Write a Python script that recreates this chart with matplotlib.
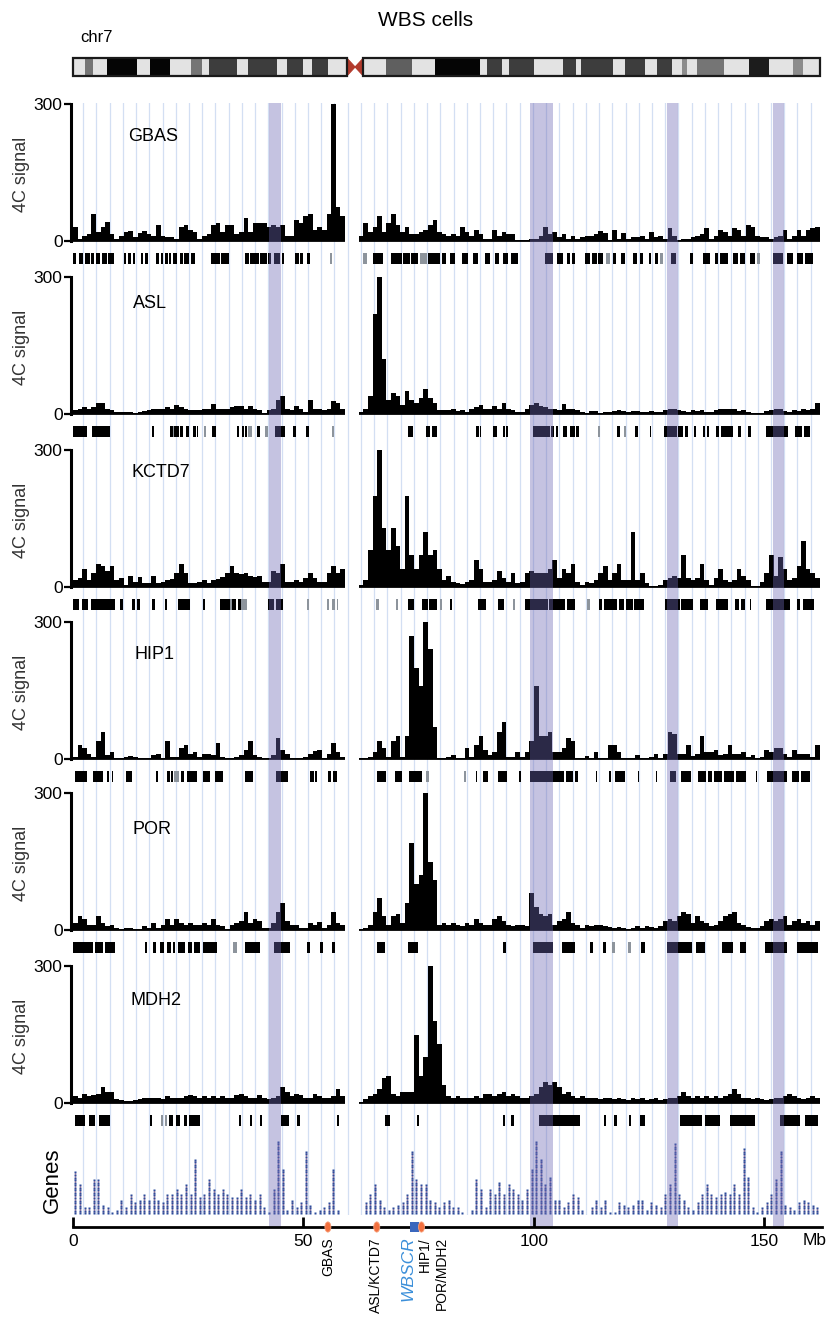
import numpy as np
import matplotlib
matplotlib.use("Agg")
import matplotlib.pyplot as plt
from matplotlib.patches import Polygon, Rectangle, Ellipse

plt.rcParams['font.family'] = ['Liberation Sans', 'DejaVu Sans']

# ---- chromosome 7 ideogram: (start Mb, end Mb, stain %) ----
IDEO_BANDS = [
    (0, 2.6, 0), (2.6, 4.4, 50), (4.4, 7.3, 0), (7.3, 13.8, 100), (13.8, 16.7, 0),
    (16.7, 21.0, 100), (21.0, 25.7, 0), (25.7, 27.9, 50), (27.9, 29.4, 0),
    (29.4, 35.5, 75), (35.5, 38.0, 0), (38.0, 44.2, 75), (44.2, 46.4, 0),
    (46.4, 50.0, 75), (50.0, 51.8, 0), (51.8, 55.4, 75), (55.4, 59.4, 0),
    (63.0, 68.0, 0), (68.0, 73.5, 60), (73.5, 78.5, 0), (78.5, 88.2, 100),
    (88.2, 89.8, 0), (89.8, 93.1, 75), (93.1, 94.7, 0), (94.7, 100.0, 75),
    (100.0, 106.4, 0), (106.4, 109.1, 75), (109.1, 110.2, 0), (110.2, 117.1, 75),
    (117.1, 119.8, 0), (119.8, 124.1, 75), (124.1, 126.8, 0), (126.8, 130.0, 75),
    (130.0, 132.1, 0), (132.1, 133.2, 40), (133.2, 135.4, 0), (135.4, 141.3, 50),
    (141.3, 146.6, 0), (146.6, 150.9, 90), (150.9, 156.2, 0), (156.2, 158.4, 40),
    (158.4, 162.1, 0),
]
CENTROMERE = (59.4, 63.0)

# ---- 4C signal, 1 Mb bins: p arm bins 0-58, q arm bins 62-161 ----
P_BINS = np.arange(0, 59)
Q_BINS = np.arange(62, 162)

gbas_p = [30, 5, 10, 15, 60, 20, 30, 42, 15, 5,
          10, 20, 22, 8, 18, 22, 15, 10, 35, 10,
          8, 8, 5, 30, 35, 25, 20, 5, 10, 15,
          35, 40, 20, 35, 35, 15, 20, 50, 20, 40,
          40, 40, 30, 35, 30, 35, 10, 10, 45, 40,
          55, 60, 25, 30, 25, 60, 300, 75, 55]
gbas_q = [10, 40, 20, 30, 55, 20, 40, 60, 35, 20,
          30, 15, 15, 20, 25, 35, 45, 20, 15, 10,
          15, 10, 30, 20, 10, 25, 15, 5, 5, 25,
          10, 20, 15, 15, 3, 2, 2, 5, 5, 10,
          30, 15, 20, 8, 15, 5, 12, 5, 8, 10,
          12, 15, 22, 18, 3, 25, 5, 18, 5, 8,
          8, 10, 5, 20, 8, 10, 5, 28, 10, 3,
          5, 5, 8, 10, 15, 28, 5, 10, 25, 20,
          10, 28, 25, 10, 35, 30, 10, 8, 8, 5,
          8, 10, 25, 5, 12, 25, 12, 25, 28, 30]

asl_p = [8, 12, 15, 10, 15, 25, 25, 10, 8, 5,
         5, 5, 4, 3, 4, 6, 8, 10, 10, 12,
         15, 12, 20, 15, 10, 8, 8, 8, 10, 12,
         22, 12, 12, 10, 15, 18, 18, 12, 18, 10,
         8, 3, 8, 12, 30, 40, 12, 8, 18, 10,
         5, 30, 12, 10, 8, 10, 28, 25, 10]
asl_q = [5, 10, 40, 220, 300, 120, 30, 45, 40, 20,
         50, 30, 25, 35, 55, 35, 25, 8, 8, 8,
         10, 6, 8, 5, 10, 15, 20, 10, 12, 18,
         10, 25, 10, 8, 5, 5, 10, 20, 25, 18,
         15, 12, 10, 8, 22, 12, 10, 8, 4, 3,
         6, 6, 3, 4, 4, 6, 8, 6, 4, 6,
         6, 5, 4, 6, 4, 5, 8, 10, 12, 8,
         6, 5, 8, 6, 8, 5, 5, 8, 10, 12,
         10, 12, 6, 8, 5, 2, 2, 3, 6, 8,
         10, 10, 6, 4, 8, 6, 10, 8, 12, 25]

kctd7_p = [15, 20, 40, 15, 30, 50, 45, 35, 45, 15,
           20, 5, 25, 10, 22, 8, 8, 25, 8, 12,
           15, 18, 30, 50, 30, 8, 8, 10, 15, 8,
           15, 18, 22, 30, 45, 30, 28, 30, 25, 22,
           25, 10, 10, 35, 30, 50, 12, 10, 15, 12,
           20, 30, 20, 10, 12, 30, 45, 30, 40]
kctd7_q = [5, 15, 80, 200, 300, 130, 80, 130, 90, 40,
           200, 70, 40, 70, 120, 70, 80, 40, 15, 25,
           10, 8, 6, 10, 15, 60, 40, 10, 10, 15,
           35, 20, 10, 30, 8, 10, 30, 35, 30, 30,
           30, 40, 60, 20, 40, 30, 50, 10, 5, 10,
           8, 15, 30, 45, 15, 30, 50, 15, 15, 120,
           15, 30, 8, 3, 3, 5, 15, 20, 25, 20,
           70, 20, 15, 20, 50, 15, 5, 20, 40, 15,
           10, 15, 40, 25, 15, 3, 3, 10, 30, 70,
           25, 65, 40, 15, 20, 45, 100, 40, 30, 20]

hip1_p = [5, 30, 25, 10, 5, 40, 60, 8, 15, 3,
          3, 5, 6, 4, 3, 3, 3, 8, 12, 3,
          40, 5, 5, 25, 30, 12, 15, 5, 12, 10,
          8, 35, 5, 3, 3, 5, 8, 20, 40, 8,
          5, 2, 3, 8, 45, 20, 10, 3, 2, 3,
          5, 10, 18, 20, 3, 12, 35, 15, 5]
hip1_q = [2, 2, 5, 15, 40, 25, 5, 40, 50, 5,
          50, 270, 200, 160, 300, 240, 70, 3, 3, 5,
          8, 2, 3, 25, 5, 30, 50, 20, 8, 15,
          60, 80, 5, 5, 15, 5, 15, 40, 160, 50,
          50, 60, 15, 15, 25, 45, 40, 3, 3, 6,
          3, 15, 2, 3, 30, 30, 15, 3, 2, 3,
          8, 2, 3, 5, 10, 2, 10, 60, 55, 12,
          10, 30, 6, 10, 50, 15, 15, 20, 8, 10,
          30, 12, 10, 15, 5, 8, 3, 5, 20, 15,
          25, 25, 12, 5, 20, 10, 12, 10, 5, 30]

por_p = [15, 30, 25, 10, 10, 30, 15, 8, 12, 5,
         3, 5, 4, 3, 3, 8, 5, 15, 5, 10,
         25, 12, 25, 15, 10, 15, 12, 12, 15, 10,
         25, 12, 8, 3, 10, 15, 20, 40, 15, 25,
         20, 5, 5, 15, 40, 60, 20, 12, 10, 5,
         5, 15, 10, 18, 5, 12, 40, 15, 10]
por_q = [3, 5, 10, 40, 70, 30, 10, 30, 35, 15,
         60, 190, 100, 120, 300, 150, 110, 10, 15, 12,
         15, 10, 8, 15, 10, 25, 15, 10, 10, 25,
         30, 20, 12, 8, 12, 10, 8, 80, 50, 35,
         30, 35, 10, 20, 25, 40, 15, 10, 5, 12,
         8, 10, 12, 8, 6, 5, 6, 4, 3, 5,
         8, 5, 8, 6, 5, 8, 20, 25, 20, 30,
         40, 35, 15, 30, 20, 15, 8, 10, 20, 30,
         35, 40, 15, 10, 6, 5, 4, 8, 20, 25,
         20, 25, 30, 10, 20, 25, 15, 20, 10, 20]

mdh2_p = [15, 12, 20, 15, 18, 20, 35, 25, 25, 8,
          6, 5, 4, 6, 8, 10, 10, 12, 10, 8,
          15, 12, 10, 12, 15, 18, 15, 12, 15, 12,
          15, 12, 15, 12, 10, 18, 20, 15, 12, 10,
          18, 12, 8, 10, 15, 35, 25, 15, 20, 18,
          10, 12, 20, 15, 12, 10, 15, 30, 15]
mdh2_q = [3, 8, 15, 20, 30, 55, 60, 20, 15, 25,
          25, 25, 150, 60, 100, 300, 180, 130, 40, 15,
          12, 15, 12, 10, 12, 15, 10, 20, 20, 15,
          20, 25, 15, 20, 15, 10, 12, 15, 20, 35,
          45, 40, 45, 35, 20, 25, 15, 12, 15, 10,
          12, 10, 8, 10, 12, 8, 10, 8, 6, 10,
          8, 10, 6, 8, 12, 6, 8, 10, 12, 15,
          25, 15, 12, 15, 12, 15, 10, 15, 12, 15,
          20, 30, 20, 12, 10, 8, 10, 8, 6, 8,
          10, 12, 15, 20, 15, 10, 8, 12, 15, 12]

# ---- significant-contact windows (Mb intervals) under each track ----
gbas_dom = [(0, 0.7), (1.4, 2.1), (2.7, 3.7), (3.8, 4.6), (5.0, 5.9), (6.3, 7.3), (7.6, 9.0),
            (11.1, 11.5), (11.9, 12.5), (13.1, 13.5), (14.0, 14.2), (14.7, 15.1), (15.7, 16.3),
            (18.1, 18.6), (19.2, 19.6), (20.0, 20.6), (20.8, 21.2), (21.8, 22.5), (23.2, 23.8),
            (24.1, 25.2), (25.7, 26.5), (30.0, 31.9), (32.2, 33.8), (37.4, 38.1), (38.4, 40.3),
            (40.6, 42.0), (42.3, 42.9), (43.5, 44.9), (45.3, 45.8), (48.1, 49.0), (49.2, 49.8),
            (50.7, 51.4), (65.1, 67.2), (69.1, 71.3), (71.5, 73.1), (73.4, 74.9), (77.1, 79.6),
            (80.0, 81.0), (81.8, 82.8), (84.3, 85.7), (86.8, 87.9), (89.4, 90.4), (91.5, 92.5),
            (93.3, 94.4), (95.1, 96.6), (102.4, 104.2), (104.9, 106.3), (107.1, 107.8),
            (108.2, 108.9), (111.0, 112.1), (112.5, 113.6), (113.9, 115.0), (117.2, 117.9),
            (119.0, 119.7), (121.5, 122.3), (123.0, 123.7), (125.0, 125.5), (126.2, 127.0),
            (129.8, 130.9), (133.8, 134.5), (136.7, 138.2), (139.2, 140.0), (140.3, 142.1),
            (143.2, 144.3), (144.7, 145.8), (146.8, 147.9), (151.9, 154.1), (154.8, 156.2),
            (157.0, 158.4), (158.8, 160.6)]
gbas_weak = [(55.7, 56.3), (63.0, 63.7), (75.3, 76.7), (115.7, 116.5), (127.3, 128.0),
             (148.5, 149.0)]

asl_dom = [(0, 3.0), (4.2, 8.0), (17.1, 17.6), (21.0, 21.6), (22.0, 22.9), (23.2, 23.9),
           (24.5, 25.2), (26.0, 26.6), (26.9, 27.2), (30.1, 31.0), (35.5, 36.0), (36.6, 37.0),
           (37.3, 37.7), (40.0, 40.6), (43.8, 46.0), (47.8, 48.4), (50.5, 51.3),
           (72.7, 73.7), (76.6, 77.5), (77.9, 78.9), (87.5, 88.0), (88.2, 88.6), (91.2, 91.9),
           (93.2, 93.7), (93.9, 94.4), (99.7, 103.5), (103.8, 104.4), (104.7, 105.3),
           (106.2, 107.1), (107.8, 108.9), (109.1, 109.8), (118.1, 118.6), (121.9, 122.6),
           (125.1, 125.5), (128.2, 131.0), (131.3, 132.4), (132.8, 133.5), (134.7, 135.1),
           (136.6, 137.2), (137.5, 138.0), (139.6, 140.1), (140.5, 143.2), (144.3, 145.0),
           (146.5, 147.0), (150.3, 155.2), (156.6, 158.2), (158.5, 160.0)]
asl_weak = [(21.6, 22.0), (28.5, 28.9), (38.0, 38.8), (41.6, 42.2), (56.1, 56.6),
            (113.9, 114.3), (119.6, 120.0)]

kctd7_dom = [(0, 1.2), (1.9, 3.3), (4.0, 9.1), (10.2, 10.9), (12.9, 13.4), (13.8, 14.5),
             (17.1, 17.8), (20.0, 20.3), (22.8, 25.4), (28.3, 28.7), (31.9, 34.0), (34.4, 35.3),
             (35.8, 36.4), (42.4, 43.5), (44.0, 45.6), (72.7, 73.9), (75.8, 77.0), (77.3, 78.9),
             (81.8, 82.3), (87.9, 89.7), (92.2, 93.5), (98.0, 103.0), (103.3, 106.8),
             (107.2, 108.9), (114.2, 114.8), (115.2, 118.0), (118.4, 119.6), (120.0, 121.4),
             (121.8, 123.8), (128.4, 131.6), (132.0, 134.5), (136.1, 137.8), (139.5, 142.1),
             (143.6, 144.4), (144.9, 145.8), (146.8, 147.2), (150.3, 155.5), (157.0, 157.8),
             (158.3, 160.7)]
kctd7_weak = [(34.0, 34.4), (36.4, 37.7), (50.7, 51.3), (55.0, 55.5), (56.3, 56.8),
              (57.2, 57.6), (65.8, 66.3), (70.0, 70.5), (79.6, 80.0), (95.5, 96.0),
              (111.6, 112.2)]

hip1_dom = [(0.4, 3.1), (4.4, 6.6), (7.4, 7.9), (8.4, 8.7), (11.5, 12.7), (18.1, 18.5),
            (20.5, 21.0), (21.3, 21.8), (23.4, 24.1), (24.7, 26.8), (28.1, 29.7), (30.8, 32.5),
            (37.3, 39.0), (44.0, 46.6), (51.4, 52.2), (52.5, 52.9), (55.4, 56.0), (56.4, 57.2),
            (65.9, 68.0), (69.8, 71.3), (72.9, 75.8), (87.4, 87.7), (89.0, 90.1), (92.2, 94.1),
            (96.8, 97.1), (99.1, 106.5), (106.9, 108.5), (109.0, 109.6), (113.4, 113.7),
            (116.3, 116.8), (117.6, 119.7), (122.5, 122.8), (126.4, 126.7), (129.5, 130.9),
            (132.0, 134.0), (135.6, 137.3), (137.8, 138.6), (139.0, 140.7), (141.2, 143.4),
            (143.8, 146.1), (148.1, 148.4), (150.5, 154.8), (155.9, 157.6), (158.0, 159.9)]
hip1_weak = [(21.9, 23.0), (76.6, 77.3), (84.8, 85.2)]

por_dom = [(0.1, 4.4), (4.8, 6.6), (6.9, 9.1), (15.6, 16.1), (17.4, 18.1), (18.9, 19.8),
           (20.5, 21.2), (21.6, 22.1), (22.8, 24.3), (25.0, 25.8), (26.3, 27.5), (28.3, 31.2),
           (37.3, 40.6), (43.5, 47.1), (50.7, 51.4), (53.6, 54.3), (56.1, 56.8),
           (65.9, 67.7), (72.7, 74.9), (93.3, 94.0), (99.8, 104.2), (106.0, 108.9),
           (112.1, 112.8), (115.0, 115.7), (123.3, 124.0), (128.8, 134.2), (135.1, 137.1),
           (140.7, 143.2), (144.7, 146.1), (150.1, 154.8), (157.0, 161.7)]
por_weak = [(34.8, 35.6), (117.0, 117.6), (120.4, 121.0)]

mdh2_dom = [(0.4, 2.6), (3.5, 4.8), (5.6, 8.0), (16.7, 17.2), (20.8, 21.6), (22.3, 23.2),
            (24.1, 24.8), (25.2, 27.5), (36.0, 36.4), (38.4, 38.9), (40.6, 41.1), (45.1, 46.9),
            (48.7, 49.2), (57.2, 57.7), (67.7, 68.8), (74.7, 75.1), (93.2, 93.7), (95.1, 95.7),
            (101.1, 110.0), (115.2, 115.6), (117.4, 118.1), (120.6, 121.0), (123.0, 124.1),
            (131.7, 136.5), (137.1, 140.3), (142.5, 147.9), (153.4, 157.7), (158.8, 161.7)]
mdh2_weak = [(19.0, 19.5), (20.0, 20.4)]

TRACK_NAMES = ["GBAS", "ASL", "KCTD7", "HIP1", "POR", "MDH2"]
P_SIGNALS = [gbas_p, asl_p, kctd7_p, hip1_p, por_p, mdh2_p]
Q_SIGNALS = [gbas_q, asl_q, kctd7_q, hip1_q, por_q, mdh2_q]
DOMAINS = [gbas_dom, asl_dom, kctd7_dom, hip1_dom, por_dom, mdh2_dom]
WEAK_DOMAINS = [gbas_weak, asl_weak, kctd7_weak, hip1_weak, por_weak, mdh2_weak]

# ---- gene counts per 1 Mb bin (0-161) ----
gene_counts = [17, 12, 3, 3, 14, 14, 4, 3, 1, 2,
               6, 3, 8, 5, 6, 8, 6, 10, 6, 5,
               8, 8, 10, 8, 12, 8, 22, 7, 8, 14,
               10, 8, 10, 8, 7, 7, 10, 7, 8, 6,
               8, 3, 1, 10, 29, 18, 2, 6, 3, 5,
               25, 4, 1, 2, 3, 5, 18, 2, 0, 0,
               0, 0, 0, 5, 8, 12, 6, 3, 2, 3,
               4, 5, 8, 25, 14, 12, 12, 6, 5, 3,
               5, 6, 3, 3, 1, 0, 2, 14, 10, 3,
               10, 8, 13, 8, 12, 10, 8, 6, 10, 18,
               29, 22, 12, 15, 6, 6, 3, 5, 8, 7,
               2, 0, 3, 6, 3, 6, 1, 1, 5, 4,
               3, 4, 6, 6, 2, 5, 4, 3, 8, 12,
               28, 8, 6, 3, 2, 5, 8, 12, 8, 7,
               8, 9, 8, 12, 8, 26, 15, 3, 1, 3,
               5, 8, 14, 25, 4, 3, 2, 5, 6, 5,
               4, 3]

# regions shaded across all tracks (Mb)
SHADED = [(42.5, 45.2), (99.1, 104.1), (128.9, 131.3), (151.8, 154.3)]

# loci marked on the chromosome axis
VIEWPOINTS = [("GBAS", 55.3), ("ASL/KCTD7", 65.9), ("HIP1/", 75.6)]
WBSCR = (73.1, 75.0)

# ---- layout (pixels) ----
FIG_W, FIG_H = 834, 1318
X_LEFT, X_RIGHT = 73, 822
X_MAX = 162.5
PANEL_TOPS = [104, 277, 450, 622, 793, 966]
PANEL_H = 137
LABEL_POS = [(11.9, 228), (13.0, 243), (12.7, 250), (13.4, 228), (12.9, 221), (12.4, 225)]


def fig_box(x0, y0, x1, y1):
    # pixel box with top-left origin -> figure rect
    return [x0 / FIG_W, 1 - y1 / FIG_H, (x1 - x0) / FIG_W, (y1 - y0) / FIG_H]


def stain_color(stain):
    if stain == 0:
        return "#e3e3e3"
    v = 0.88 * (1 - stain / 100) + 0.02
    return (v, v, v)


fig = plt.figure(figsize=(FIG_W / 100, FIG_H / 100), dpi=100)

fig.text(426 / FIG_W, 1 - 20 / FIG_H, "WBS cells", ha="center", va="center", fontsize=15)
fig.text(80 / FIG_W, 1 - 37 / FIG_H, "chr7", ha="left", va="center", fontsize=12)

# ideogram
ax_id = fig.add_axes(fig_box(X_LEFT, 58, X_RIGHT, 76))
ax_id.set_xlim(0, X_MAX)
ax_id.set_ylim(0, 1)
ax_id.axis("off")
for s, e, stain in IDEO_BANDS:
    ax_id.add_patch(Rectangle((s, 0), e - s, 1, facecolor=stain_color(stain), edgecolor="none"))
c0, c1 = CENTROMERE
cm = (c0 + c1) / 2
for cx in (c0, c1):
    ax_id.add_patch(Polygon([(cx, 0), (cm, 0.5), (cx, 1)], closed=True,
                            facecolor="#b23a2c", edgecolor="#b23a2c", lw=0.8))
q_end = IDEO_BANDS[-1][1]
for s, e in ((0, c0), (c1, q_end)):
    ax_id.add_patch(Rectangle((s, 0), e - s, 1, facecolor="none", edgecolor="#1a1a1a",
                              lw=1.6, clip_on=False))

# light vertical guides behind all tracks
ax_bg = fig.add_axes(fig_box(X_LEFT, 103, X_RIGHT, 1215))
ax_bg.set_zorder(0)
ax_bg.set_xlim(0, X_MAX)
ax_bg.axis("off")
for gx in np.arange(2.2, X_MAX, 2.87):
    ax_bg.axvline(gx, color="#d3dff3", lw=0.9)

# 4C tracks
for i, name in enumerate(TRACK_NAMES):
    top = PANEL_TOPS[i]
    base = top + PANEL_H
    ax = fig.add_axes(fig_box(X_LEFT, top, X_RIGHT, base))
    ax.set_zorder(1)
    ax.set_facecolor("none")
    ax.bar(P_BINS, P_SIGNALS[i], width=1.0, align="edge", color="black", lw=0)
    ax.bar(Q_BINS, Q_SIGNALS[i], width=1.0, align="edge", color="black", lw=0)
    ax.hlines(0, P_BINS[0], P_BINS[-1] + 1, color="black", lw=1.3, clip_on=False)
    ax.hlines(0, Q_BINS[0], Q_BINS[-1] + 1, color="black", lw=1.3, clip_on=False)
    ax.set_xlim(0, X_MAX)
    ax.set_ylim(0, 300)
    for sp in ("top", "right", "bottom"):
        ax.spines[sp].set_visible(False)
    ax.spines["left"].set_linewidth(2.2)
    ax.spines["left"].set_position(("outward", 1.5))
    ax.set_xticks([])
    ax.set_yticks([0, 300])
    ax.tick_params(axis="y", length=5, width=1.6, labelsize=12.5, pad=1)
    lx, ly = LABEL_POS[i]
    ax.text(lx, ly, name, fontsize=13, va="center", ha="left")
    fig.text(22 / FIG_W, 1 - (top + 70) / FIG_H, "4C signal", rotation=90,
             ha="center", va="center", fontsize=13, color="#333333")

    ax_d = fig.add_axes(fig_box(X_LEFT, base + 12, X_RIGHT, base + 23))
    ax_d.set_zorder(1)
    ax_d.set_facecolor("none")
    ax_d.set_xlim(0, X_MAX)
    ax_d.set_ylim(0, 1)
    ax_d.axis("off")
    ax_d.broken_barh([(s, e - s) for s, e in WEAK_DOMAINS[i]], (0, 1), facecolors="#8d949c")
    ax_d.broken_barh([(s, e - s) for s, e in DOMAINS[i]], (0, 1), facecolors="black")

# gene density track: one dot per gene, stacked per 1 Mb bin
ax_g = fig.add_axes(fig_box(X_LEFT, 1138, X_RIGHT, 1215))
ax_g.set_zorder(1)
ax_g.set_facecolor("none")
ax_g.set_xlim(0, X_MAX)
ax_g.set_ylim(-0.6, 29.4)
ax_g.axis("off")
counts = np.array(gene_counts)
centers = np.arange(len(counts)) + 0.5
has = counts > 0
ax_g.vlines(centers[has], 0, counts[has] - 1, color="#ea98a2", lw=0.8)
gx = np.repeat(centers, counts)
gy = np.concatenate([np.arange(n) for n in counts])
ax_g.plot(gx, gy, "s", ms=1.8, color="#2b4c9c", mec="none", ls="none")
fig.text(52 / FIG_W, 1 - 1180 / FIG_H, "Genes", rotation=90, ha="center", va="center",
         fontsize=16)

# shaded regions drawn over all tracks
ax_sh = fig.add_axes(fig_box(X_LEFT, 103, X_RIGHT, 1228))
ax_sh.set_zorder(5)
ax_sh.set_facecolor("none")
ax_sh.set_xlim(0, X_MAX)
ax_sh.axis("off")
for s, e in SHADED:
    ax_sh.axvspan(s, e, color="#6e69b4", alpha=0.4, lw=0)

# chromosome coordinate axis
ax_sc = fig.add_axes(fig_box(X_LEFT, 1215, X_RIGHT, 1227))
ax_sc.set_zorder(6)
ax_sc.set_facecolor("none")
ax_sc.set_xlim(0, X_MAX)
ax_sc.set_ylim(0, 1)
for sp in ("top", "right", "left"):
    ax_sc.spines[sp].set_visible(False)
ax_sc.spines["bottom"].set_linewidth(2)
ax_sc.set_yticks([])
ax_sc.set_xticks([0, 50, 100, 150])
ax_sc.tick_params(axis="x", direction="in", length=7, width=2, labelsize=12.5, pad=5)
ax_sc.text(161, -1.15, "Mb", fontsize=12.5, ha="center", va="center", clip_on=False)

ax_sc.add_patch(Rectangle((WBSCR[0], -0.4), WBSCR[1] - WBSCR[0], 0.8, facecolor="#3a67bd",
                          edgecolor="none", clip_on=False, zorder=10))
for label, pos in VIEWPOINTS:
    ax_sc.add_patch(Ellipse((pos, 0), 1.3, 0.85, facecolor="#f2703f", edgecolor="#f7a07a",
                            lw=0.6, clip_on=False, zorder=11))

ax_sc.text(55.3, -0.85, "GBAS", rotation=90, ha="center", va="top", fontsize=10,
           clip_on=False)
ax_sc.text(65.8, -0.85, "ASL/KCTD7", rotation=90, ha="center", va="top", fontsize=10,
           clip_on=False)
ax_sc.text(72.7, -0.75, "WBSCR", rotation=90, ha="center", va="top", fontsize=12.5,
           style="italic", color="#3b8fd9", clip_on=False)
ax_sc.text(76.4, -0.85, "HIP1/", rotation=90, ha="center", va="top", fontsize=10,
           clip_on=False)
ax_sc.text(80.1, -0.85, "POR/MDH2", rotation=90, ha="center", va="top", fontsize=10,
           clip_on=False)

fig.savefig("out.png", dpi=100)
